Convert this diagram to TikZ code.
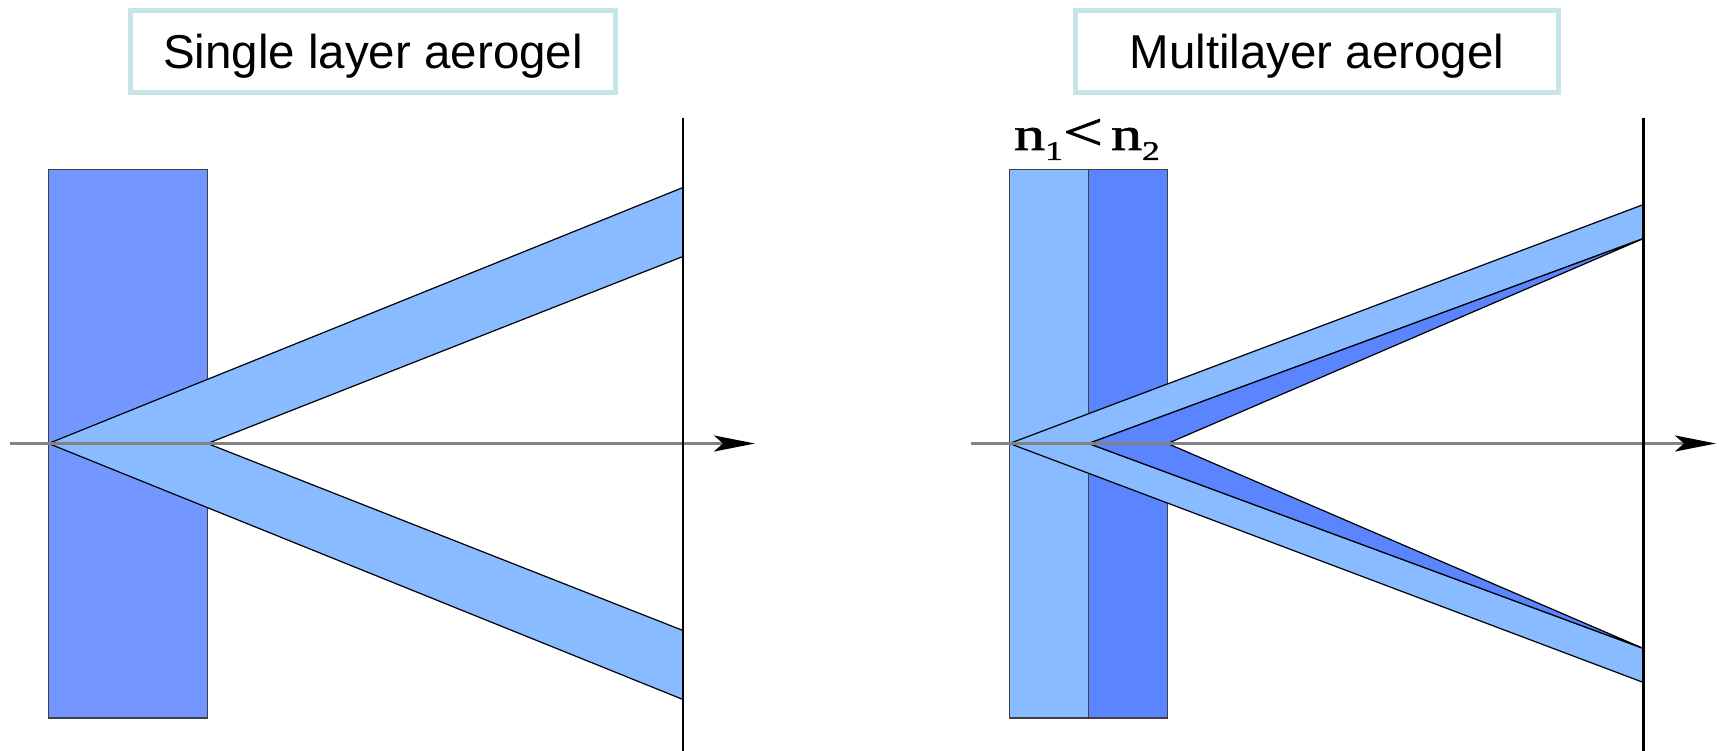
\documentclass[tikz,border=0pt]{standalone}
\usepackage{graphicx}
\usepackage{fontspec}
\setmainfont{Liberation Sans}
\newfontfamily\serifn[FakeBold=1.2]{Liberation Serif}
\usetikzlibrary{arrows.meta}
\definecolor{boxc}{RGB}{197,229,231}
\definecolor{rectA}{RGB}{116,151,255}
\definecolor{lightb}{RGB}{136,187,255}
\definecolor{darkb}{RGB}{91,133,255}
\definecolor{axisc}{RGB}{130,130,130}
\begin{document}
\begin{tikzpicture}[x=1pt,y=-1pt,
  titlebox/.style={draw=boxc, line width=4.5pt, minimum height=82pt, inner sep=0pt,
    text height=35pt, text depth=0pt, font=\fontsize{47.5}{50}\selectfont},
  gel/.style={draw=black!75, line width=1.2pt},
  band/.style={draw=black, line width=1.2pt, line join=round},
  axisline/.style={draw=axisc, line width=3pt, -{Stealth[length=41pt,width=16pt,inset=9pt,black]}},
  detector/.style={draw=black, line width=2.5pt}]
\useasboundingbox (0,0) rectangle (1719,751);

% titles
\node[titlebox, minimum width=485pt] (t1) at (373,51.5) {Single layer aerogel};
\node[titlebox, minimum width=483pt] (t2) at (1317,51.5) {Multilayer aerogel};

% ---------- left panel ----------
\coordinate (A1) at (48.5,443.5);
\coordinate (B1) at (207.5,443.5);
\coordinate (U1o) at (683,187.5);
\coordinate (U1i) at (683,256.5);
\coordinate (D1i) at (683,630.5);
\coordinate (D1o) at (683,699.5);
\coordinate (ax1s) at (10,443.5);
\coordinate (ax1e) at (755,443.5);
\coordinate (de1t) at (683,118);
\coordinate (de1b) at (683,751);

\filldraw[gel, fill=rectA] (48.5,169.5) rectangle (207.5,718);
\filldraw[band, fill=lightb] (A1) -- (U1o) -- (U1i) -- (B1) -- cycle;
\filldraw[band, fill=lightb] (A1) -- (D1o) -- (D1i) -- (B1) -- cycle;
\draw[axisline] (ax1s) -- (ax1e);
\draw[detector] (de1t) -- (de1b);

% ---------- right panel ----------
\coordinate (A2) at (1009.5,443.5);
\coordinate (B2) at (1088.5,443.5);
\coordinate (C2) at (1167.5,443.5);
\coordinate (U2o) at (1643.5,204.5);
\coordinate (U2i) at (1643.5,238.5);
\coordinate (D2i) at (1643.5,648.5);
\coordinate (D2o) at (1643.5,682.5);
\coordinate (ax2s) at (971,443.5);
\coordinate (ax2e) at (1716,443.5);
\coordinate (de2t) at (1643.5,118);
\coordinate (de2b) at (1643.5,751);

\filldraw[gel, fill=lightb] (1009.5,169.5) rectangle (1088.5,718);
\filldraw[gel, fill=darkb] (1088.5,169.5) rectangle (1167.5,718);
\filldraw[band, fill=lightb] (A2) -- (U2o) -- (U2i) -- (B2) -- cycle;
\filldraw[band, fill=lightb] (A2) -- (D2o) -- (D2i) -- (B2) -- cycle;
\filldraw[band, fill=darkb] (B2) -- (U2i) -- (C2) -- cycle;
\filldraw[band, fill=darkb] (B2) -- (D2i) -- (C2) -- cycle;
\draw[axisline] (ax2s) -- (ax2e);
\draw[detector] (de2t) -- (de2b);

\node[anchor=base, inner sep=0pt] (lab) at (1087,150)
  {\scalebox{1.32}[1]{\serifn\fontsize{47}{47}\selectfont n\raisebox{-10pt}{\fontsize{27}{27}\selectfont 1}{\fontsize{54}{54}\selectfont<}\hspace{6pt}n\raisebox{-10pt}{\fontsize{27}{27}\selectfont 2}}};
\end{tikzpicture}
\end{document}
